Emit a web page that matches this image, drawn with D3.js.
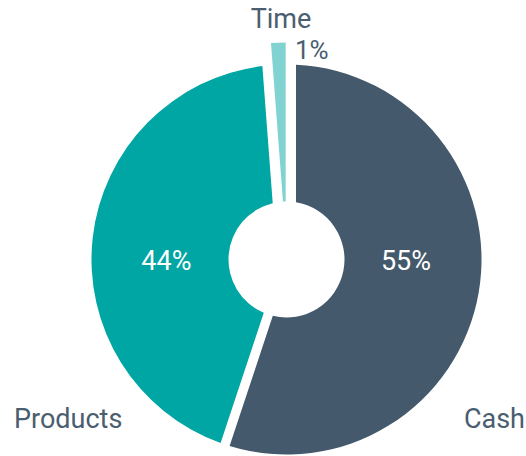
<!DOCTYPE html>
<html>
<head>
<meta charset="utf-8">
<script src="https://cdn.jsdelivr.net/npm/d3@7"></script>
<style>
  body { margin: 0; background: #fff; }
  text { font-family: Roboto, "Noto Sans", sans-serif; }
</style>
</head>
<body>
<svg width="526" height="456"></svg>
<script>
const categories = ['Cash', 'Products', 'Time'];
const values = [55.1, 43.7, 1.2]; // percent of total
const colors = ['#44596b', '#00a6a3', '#80d3d1'];

const cx = 286.5, cy = 259.5;
const outerR = 195, holeR = 58;
const gap = 9.5;        // white gap between slices
const explode = 22;     // Time is pulled out
const explodedIdx = 2;

const svg = d3.select('svg');
const g = svg.append('g').attr('transform', `translate(${cx},${cy})`);

const arcs = d3.pie().sort(null).value((d) => d)(values);

// wedge with straight edges moved inwards by s0 / s1 (parallel offset)
function wedge(a0, a1, s0, s1, R, r) {
  const m = (a) => a - Math.PI / 2;
  const o0 = a0 + Math.asin(s0 / R), o1 = a1 - Math.asin(s1 / R);
  const i0 = a0 + Math.asin(s0 / r), i1 = a1 - Math.asin(s1 / r);
  const p = d3.path();
  p.moveTo(R * Math.cos(m(o0)), R * Math.sin(m(o0)));
  p.arc(0, 0, R, m(o0), m(o1));
  p.lineTo(r * Math.cos(m(i1)), r * Math.sin(m(i1)));
  p.arc(0, 0, r, m(i1), m(i0), true);
  p.closePath();
  return p.toString();
}

// edge offsets: next to the pulled-out slice the neighbour takes the whole gap
function offsets(i) {
  if (i === explodedIdx) return [0, 0];
  const n = arcs.length;
  const prev = (i - 1 + n) % n, next = (i + 1) % n;
  return [prev === explodedIdx ? gap : gap / 2, next === explodedIdx ? gap : gap / 2];
}

g.selectAll('.slice')
  .data(arcs)
  .enter()
  .append('path')
  .classed('slice', true)
  .attr('fill', (d, i) => colors[i])
  .attr('transform', (d, i) => {
    if (i !== explodedIdx) return null;
    const mid = (d.startAngle + d.endAngle) / 2;
    return `translate(${explode * Math.sin(mid)},${-explode * Math.cos(mid)})`;
  })
  .attr('d', (d, i) => {
    const [s0, s1] = offsets(i);
    // pulled-out slice still stops at the hole edge
    const r = i === explodedIdx ? holeR - explode : holeR;
    return wedge(d.startAngle, d.endAngle, s0, s1, outerR, r);
  });

// percentages inside the big slices
const labelR = 121;
g.selectAll('.pct')
  .data(arcs.filter((d, i) => i !== explodedIdx))
  .enter()
  .append('text')
  .classed('pct', true)
  .attr('x', (d) => labelR * Math.sin((d.startAngle + d.endAngle) / 2))
  .attr('y', 1)
  .attr('text-anchor', 'middle')
  .attr('dominant-baseline', 'central')
  .attr('fill', '#fff')
  .style('font-size', '27px')
  .text((d) => Math.round(d.value) + '%');

// category labels
const textColor = '#4a5e6f';
const labelPos = [
  { x: 525, y: 428, anchor: 'end' },
  { x: 14, y: 428, anchor: 'start' },
  { x: 281, y: 28, anchor: 'middle' },
];
svg.selectAll('.cat')
  .data(categories)
  .enter()
  .append('text')
  .classed('cat', true)
  .attr('x', (d, i) => labelPos[i].x)
  .attr('y', (d, i) => labelPos[i].y)
  .attr('text-anchor', (d, i) => labelPos[i].anchor)
  .attr('fill', textColor)
  .style('font-size', '27px')
  .text((d) => d);

// small slice keeps its value outside
svg.append('text')
  .attr('x', 295)
  .attr('y', 59)
  .attr('fill', textColor)
  .style('font-size', '26px')
  .text(Math.round(values[explodedIdx]) + '%');
</script>
</body>
</html>
